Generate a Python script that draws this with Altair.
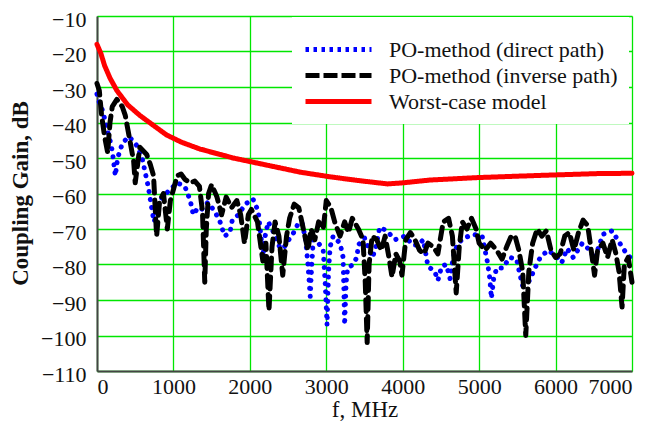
import altair as alt
import pandas as pd

NAMES = ["PO-method (direct path)", "PO-method (inverse path)", "Worst-case model"]

# PO-method, direct path (blue dotted)
f_direct = [0, 40, 80, 120, 170, 200, 240, 270, 330, 410, 470, 520, 590, 630, 670, 700, 730, 750, 780,
            860, 950, 1050, 1150, 1220, 1260, 1320, 1370, 1450, 1540, 1610, 1670, 1740, 1770, 1850,
            1940, 2040, 2110, 2150, 2170, 2200, 2240, 2300, 2370, 2420, 2470, 2550, 2620, 2680, 2730,
            2760, 2790, 2810, 2830, 2900, 2960, 2985, 3010, 3030, 3050, 3090, 3180, 3220, 3240, 3260,
            3280, 3350, 3400, 3420, 3500, 3600, 3640, 3700, 3790, 3900, 4030, 4130, 4200, 4270, 4330,
            4420, 4460, 4510, 4570, 4620, 4660, 4720, 4810, 4920, 5040, 5110, 5140, 5160, 5190, 5230,
            5310, 5400, 5490, 5530, 5570, 5660, 5730, 5800, 5900, 6000, 6080, 6150, 6230, 6350, 6450,
            6510, 6620, 6740, 6840, 6930, 7000]
v_direct = [-32, -35, -37, -41, -45, -48, -55, -50, -46, -44, -45, -46.5, -50, -54, -58, -62, -66, -68, -63,
            -61, -59, -57, -58, -62, -66, -64, -64.5, -62.5, -65, -68, -72, -71, -67.5, -66,
            -63, -61.5, -65, -73, -78, -72, -68, -70.5, -74, -77, -74, -72, -69, -68, -73,
            -80, -89, -80, -73, -74, -76, -85, -97, -82, -75, -72, -74, -78, -97, -85,
            -81, -80, -78, -74.5, -72.5, -78, -76, -69.5, -70.5, -73, -72, -74.5, -74.5, -73, -80.5,
            -82, -84.5, -80.5, -80, -84, -78, -74, -72.5, -71.5, -72, -79.5, -84, -89.5, -84, -81,
            -81, -78, -78.5, -82.5, -86, -84.5, -81, -78, -76, -77.5, -79.5, -75.5, -78, -74, -76,
            -78.5, -71.5, -70.5, -74, -77, -78.5]

# PO-method, inverse path (black dashed)
f_inverse = [0, 30, 60, 100, 140, 170, 200, 260, 330, 370, 430, 480, 500, 560, 650, 700, 740, 780, 820,
             870, 920, 960, 1050, 1100, 1150, 1220, 1280, 1340, 1380, 1410, 1430, 1460, 1500, 1570,
             1630, 1690, 1760, 1830, 1880, 1930, 1980, 2020, 2100, 2170, 2210, 2250, 2290, 2330, 2380,
             2430, 2480, 2520, 2580, 2640, 2700, 2760, 2800, 2850, 2900, 2960, 3000, 3060, 3110, 3180,
             3240, 3290, 3340, 3420, 3480, 3510, 3535, 3560, 3600, 3660, 3720, 3770, 3820, 3860, 3910,
             3960, 3990, 4040, 4100, 4160, 4220, 4280, 4330, 4400, 4460, 4530, 4600, 4650, 4700, 4740,
             4780, 4840, 4900, 4960, 5000, 5080, 5150, 5230, 5300, 5360, 5420, 5470, 5520, 5570, 5610,
             5650, 5700, 5760, 5820, 5880, 5940, 6000, 6060, 6120, 6180, 6240, 6300, 6360, 6420, 6460,
             6510, 6550, 6620, 6680, 6740, 6790, 6830, 6870, 6900, 6950, 7000]
v_inverse = [-29, -31, -38, -44, -48.5, -40, -35.5, -33.5, -35.5, -38, -45, -51, -57, -47, -49, -52, -55, -72, -62,
             -60, -70, -62, -55, -54.5, -56, -57, -56.5, -58, -65, -85, -70, -60, -57.5, -61,
             -66, -61, -64, -62, -66, -74, -66, -64.5, -68, -79, -74, -93, -75, -68, -72,
             -83, -72, -67, -63, -64, -70, -76, -70, -73, -68, -70, -62, -64, -68, -72,
             -68, -71, -67, -70, -73, -85, -102, -80, -72, -73, -76, -72, -78, -83.5, -77,
             -79, -83, -73, -71, -73, -76, -77, -74, -75, -77, -68, -67, -72, -88, -75,
             -68, -70, -67, -70, -74, -76, -74, -76, -78.5, -75, -72, -72, -76, -82, -100,
             -82, -74, -70, -72, -70.5, -76, -78, -77, -72, -71, -76, -71, -67.5, -69, -75,
             -83, -76, -74, -78, -73, -77, -82, -92, -80, -78, -85]

# Worst-case model (red solid)
f_worst = [0, 50, 100, 170, 260, 400, 560, 750, 910, 1100, 1350, 1780, 2220, 2660, 3050, 3400, 3800,
           4000, 4360, 5000, 5800, 6540, 7000]
v_worst = [-18, -20.5, -24, -27.5, -31, -35, -38, -41, -43.5, -45.5, -47.5, -50, -52, -54, -55.3, -56.3,
           -57.3, -57, -56.2, -55.5, -54.9, -54.4, -54.3]

frames = []
for name, fs, vs in zip(NAMES, [f_direct, f_inverse, f_worst], [v_direct, v_inverse, v_worst]):
    frames.append(pd.DataFrame({"f": fs, "v": vs, "series": name}))
df = pd.concat(frames, ignore_index=True)
df["order"] = range(len(df))
df_key = df.groupby("series", sort=False).head(1)  # one point per series: draws nothing, only feeds legend

FONT = "Liberation Serif"
GRID = "#00e600"
COLORS = ["#0000ff", "#000000", "#ff0000"]

x_enc = alt.X("f:Q", scale=alt.Scale(domain=[0, 7000], nice=False),
              axis=alt.Axis(title="f, MHz", values=list(range(0, 7001, 1000)), format="d",
                            grid=True, gridColor=GRID, gridWidth=1.3, tickSize=0,
                            domainColor="#444", domainWidth=2, labelPadding=5, labelOverlap=False,
                            labelFont=FONT, labelFontSize=22, labelColor="#111",
                            titleFont=FONT, titleFontSize=23, titleFontWeight="normal",
                            titleColor="#111", titleBaseline="alphabetic", titleY=45))
y_enc = alt.Y("v:Q", scale=alt.Scale(domain=[-110, -10], nice=False),
              axis=alt.Axis(title="Coupling Gain, dB", values=list(range(-110, -9, 10)), format="d",
                            grid=True, gridColor=GRID, gridWidth=1.3, tickSize=0,
                            domainColor="#444", domainWidth=2, labelPadding=11, labelOffset=3,
                            labelOverlap=False,
                            labelFont=FONT, labelFontSize=22, labelColor="#111",
                            titleFont=FONT, titleFontSize=23, titleFontWeight="bold",
                            titleColor="#111", titleX=-77, titleY=177, titleAngle=-90,
                            titleBaseline="middle", titleAlign="center"))

legend = alt.Legend(
    title=" ", titleFontSize=8, titlePadding=0, orient="none", legendX=195, legendY=1,
    fillColor="white", padding=11,
    symbolType="M-1,0H5", symbolSize=484, labelFont=FONT, labelFontSize=22, labelColor="#111",
    labelOffset=59, rowPadding=1, labelLimit=500,
)

lines = alt.Chart(df).mark_line(strokeCap="round", strokeJoin="round").encode(
    x=x_enc, y=y_enc,
    color=alt.Color("series:N", scale=alt.Scale(domain=NAMES, range=COLORS), legend=None),
    strokeDash=alt.StrokeDash("series:N", scale=alt.Scale(domain=NAMES, range=[[0.1, 8], [12, 7], [1, 0]]),
                              legend=None),
    strokeWidth=alt.StrokeWidth("series:N", scale=alt.Scale(domain=NAMES, range=[5, 5, 6.5]), legend=None),
    order="order:Q",
)

keys = alt.Chart(df_key).mark_line().encode(
    x=x_enc, y=y_enc,
    color=alt.Color("series:N", scale=alt.Scale(domain=NAMES, range=COLORS), legend=legend),
    strokeDash=alt.StrokeDash("series:N", scale=alt.Scale(domain=NAMES, range=[[3.5, 4.5], [14, 4], [1, 0]]),
                              legend=legend),
    strokeWidth=alt.StrokeWidth("series:N", scale=alt.Scale(domain=NAMES, range=[5, 5, 6.5]), legend=legend),
)

chart = alt.layer(lines, keys).resolve_scale(
    color="independent", strokeDash="independent", strokeWidth="independent"
).properties(
    width=535, height=355, autosize="none",
    padding={"left": 97, "top": 16, "right": 27, "bottom": 66},
).configure_view(stroke=None).configure(background="white")

chart.save("out.html", embed_options={"renderer": "svg", "actions": False})
